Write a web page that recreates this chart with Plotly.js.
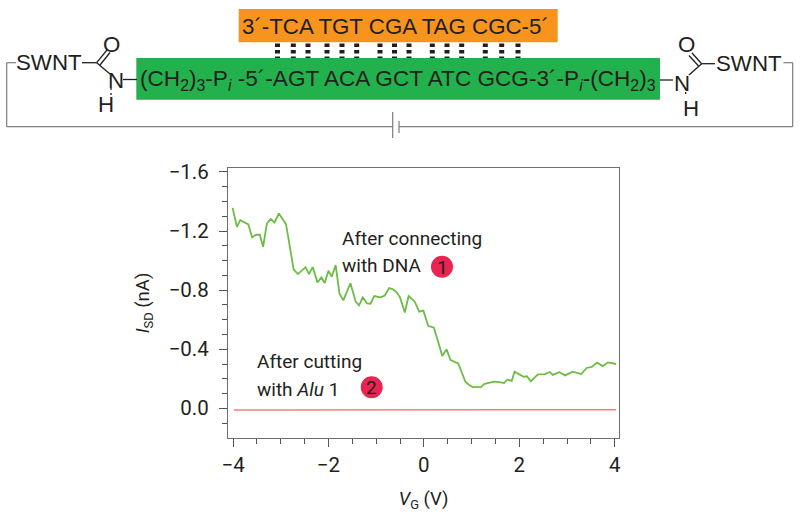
<!DOCTYPE html>
<html><head><meta charset="utf-8">
<script src="https://cdn.plot.ly/plotly-3.0.1.min.js"></script>
<style>html,body{margin:0;padding:0;background:#fff}#c{width:800px;height:517px}</style>
</head><body><div id="c"></div>
<script>
const connectedV = [-4.01,-3.92,-3.85,-3.76,-3.68,-3.60,-3.52,-3.44,-3.37,-3.29,-3.21,-3.13,-3.04,-2.89,-2.73,-2.64,-2.48,-2.41,-2.33,-2.23,-2.15,-2.08,-2.00,-1.93,-1.85,-1.77,-1.69,-1.54,-1.43,-1.36,-1.28,-1.19,-1.12,-1.04,-0.91,-0.82,-0.73,-0.66,-0.57,-0.50,-0.40,-0.32,-0.19,-0.10,-0.01,0.09,0.21,0.32,0.385,0.475,0.56,0.72,0.87,0.95,1.035,1.10,1.19,1.27,1.37,1.47,1.58,1.68,1.75,1.84,1.90,2.00,2.09,2.16,2.24,2.39,2.54,2.64,2.70,2.84,2.96,3.12,3.30,3.41,3.52,3.63,3.75,3.86,4.03];
const connectedI = [-1.357,-1.229,-1.274,-1.260,-1.245,-1.157,-1.175,-1.175,-1.094,-1.252,-1.281,-1.258,-1.319,-1.247,-0.940,-0.909,-0.956,-0.909,-0.956,-0.852,-0.886,-0.848,-0.931,-0.891,-0.970,-0.778,-0.731,-0.846,-0.722,-0.697,-0.751,-0.710,-0.708,-0.760,-0.751,-0.764,-0.814,-0.807,-0.785,-0.751,-0.649,-0.760,-0.722,-0.654,-0.661,-0.559,-0.546,-0.429,-0.354,-0.399,-0.327,-0.304,-0.180,-0.158,-0.142,-0.147,-0.142,-0.165,-0.171,-0.180,-0.178,-0.171,-0.194,-0.185,-0.248,-0.232,-0.214,-0.217,-0.183,-0.230,-0.232,-0.246,-0.226,-0.244,-0.223,-0.248,-0.232,-0.273,-0.280,-0.309,-0.286,-0.311,-0.300];
const cutV = [-3.98,-2.0,-1.45,-1.32,-1.18,-0.6,-0.4,-0.1,0.1,0.3,0.6,1.0,1.6,2.1,2.7,4.03];
const cutI = [0.011,0.011,0.011,0.008,0.011,0.011,0.009,0.011,0.009,0.010,0.009,0.010,0.011,0.011,0.010,0.009];

const sans = '"Liberation Sans", Arial, sans-serif';
const narrow = 'Roboto, "Liberation Sans", Arial, sans-serif';
const ink = '#231f20';
const W = 800, H = 517;
const grey = '#7d7d7d';
const tickSize = 20.5, noteSize = 19, titleSize = 18.5;

// page-pixel helpers for the schematic drawn around the plot
const px = x => x / W, py = y => 1 - y / H;
function seg(x0, y0, x1, y1, color, width, dash) {
  return {type:'line', xref:'paper', yref:'paper', x0:px(x0), y0:py(y0), x1:px(x1), y1:py(y1),
          line:{color:color, width:width, dash:dash || 'solid'}, layer:'above'};
}
function box(x0, y0, x1, y1, color) {
  return {type:'rect', xref:'paper', yref:'paper', x0:px(x0), y0:py(y0), x1:px(x1), y1:py(y1),
          fillcolor:color, line:{width:0}, layer:'below'};
}
function dot(cx, cy, r, color) {
  return {type:'circle', xref:'paper', yref:'paper', x0:px(cx-r), y0:py(cy-r), x1:px(cx+r), y1:py(cy+r),
          fillcolor:color, line:{width:0}, layer:'below'};
}
function label(text, x, y, size, anchor, family) {
  return {xref:'paper', yref:'paper', x:px(x), y:py(y), text:text, showarrow:false,
          xanchor:anchor || 'center', yanchor:'middle', font:{family:family || sans, size:size, color:ink}, borderpad:0, borderwidth:0};
}

const pairX = [277.5,293.3,308,327,342,356.7,380,394.5,409,432.3,447,461.7,485.3,501.7,518];

const shapes = [
  box(238.7, 9, 557.7, 42.3, '#f7941e'),
  box(136.3, 58, 660, 99.7, '#22b14c'),
  dot(442, 266.7, 11, '#ea2450'),
  dot(371.7, 387.3, 11, '#ea2450'),
  // circuit
  seg(16, 62.7, 6.7, 62.7, grey, 1.2), seg(6.7, 62.7, 6.7, 126.7, grey, 1.2),
  seg(6.7, 126.7, 392.7, 126.7, grey, 1.2),
  seg(392.7, 112, 392.7, 138, grey, 1.2), seg(399, 121, 399, 133, grey, 1.2),
  seg(399, 126.7, 792.7, 126.7, grey, 1.2), seg(792.7, 126.7, 792.7, 62.7, grey, 1.2), seg(792.7, 62.7, 783.5, 62.7, grey, 1.2),
  // left linker
  seg(82, 62.7, 96.7, 62.7, ink, 1.3), seg(96.7, 62.7, 107, 50, ink, 1.3), seg(100, 65, 110, 52.5, ink, 1.3),
  seg(96.7, 62.7, 110, 74, ink, 1.3), seg(123, 79.5, 137, 79.5, ink, 1.3), seg(111, 88, 111, 97, ink, 1.3, '2px,3px'),
  // right linker
  seg(660, 80, 673, 80, ink, 1.3), seg(689, 75, 701.7, 63.7, ink, 1.3), seg(701.7, 63.7, 715, 63.7, ink, 1.3),
  seg(701.7, 63.7, 692, 53, ink, 1.3), seg(698.5, 66, 689, 55.5, ink, 1.3), seg(685.7, 92, 685.7, 97, ink, 1.3, '2px,3px')
];
pairX.forEach(x => shapes.push(seg(x, 43.5, x, 58, '#1f1f1f', 5, '3.5px,3px')));

const annotations = [
  label('3´-TCA TGT CGA TAG CGC-5´', 395.5, 26, 22.3),
  label('(CH<sub>2</sub>)<sub>3</sub>-P<sub><i>i</i></sub> -5´-AGT ACA GCT ATC GCG-3´-P<sub><i>i</i></sub>-(CH<sub>2</sub>)<sub>3</sub>', 398, 80, 22.6),
  label('SWNT', 49, 62, 22.3), label('O', 111.7, 44.5, 22.3), label('N', 116, 80, 22.3), label('H', 106, 104, 22.3),
  label('SWNT', 749, 64, 22.3), label('O', 686, 44.5, 22.3), label('N', 681.7, 83, 22.3), label('H', 691, 108, 22.3),
  label('After connecting', 342, 238, noteSize, 'left', narrow),
  label('with DNA', 342, 265, noteSize, 'left', narrow),
  label('1', 442, 267, noteSize, 'center', narrow),
  label('After cutting', 257, 361, noteSize, 'left', narrow),
  label('with <i>Alu</i> 1', 257, 389, noteSize, 'left', narrow),
  label('2', 371.7, 387.5, noteSize, 'center', narrow)
];

const axisCommon = {
  showgrid:false, zeroline:false, showline:true, linecolor:'#6f6f6f', linewidth:1.4, mirror:true,
  ticks:'outside', ticklen:8, tickwidth:1, tickcolor:'#555',
  tickfont:{family:narrow, size:tickSize, color:ink}
};

Plotly.newPlot('c', [
  {x:connectedV, y:connectedI, mode:'lines', line:{color:'#6cbd45', width:1.8}, hoverinfo:'skip', showlegend:false},
  {x:cutV, y:cutI, mode:'lines', line:{color:'#f27f7f', width:1.5}, hoverinfo:'skip', showlegend:false}
], {
  width:W, height:H, margin:{l:0, r:0, t:0, b:0}, paper_bgcolor:'#fff', plot_bgcolor:'#fff', showlegend:false,
  xaxis:Object.assign({}, axisCommon, {
    domain:[228.3/W, 619/W], range:[-4.1, 4.09], tick0:0, dtick:2,
    minor:{dtick:0.5, ticks:'outside', ticklen:5, tickwidth:1, tickcolor:'#555'},
    title:{text:'<i>V</i><sub>G</sub> (V)', font:{family:narrow, size:titleSize, color:ink}, standoff:16}
  }),
  yaxis:Object.assign({}, axisCommon, {
    domain:[1-437.7/H, 1-168.3/H], range:[0.199, -1.625], tick0:0, dtick:0.4, tickformat:'.1f', ticklabelstandoff:6,
    minor:{dtick:0.1, ticks:'outside', ticklen:5, tickwidth:1, tickcolor:'#555'},
    title:{text:'<i>I</i><sub>SD</sub> (nA)', font:{family:narrow, size:titleSize, color:ink}, standoff:14}
  }),
  shapes:shapes, annotations:annotations
}, {displayModeBar:false, staticPlot:true});
</script></body></html>
